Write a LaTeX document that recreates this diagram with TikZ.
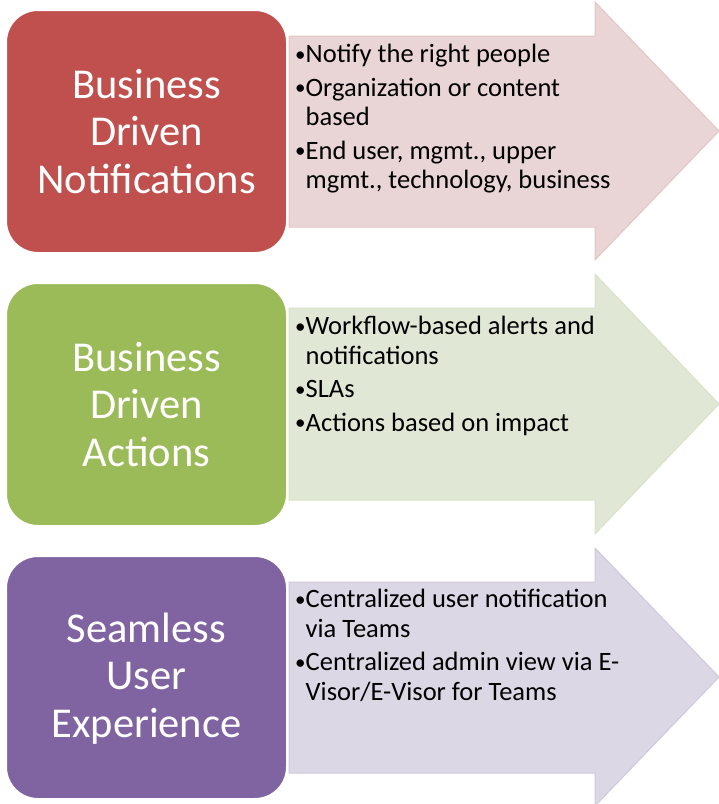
\documentclass[tikz,border=0pt]{standalone}
\usepackage{fontspec}
\setmainfont{Carlito}
\definecolor{redbox}{HTML}{C0504D}
\definecolor{greenbox}{HTML}{9BBB59}
\definecolor{purplebox}{HTML}{8064A2}
\definecolor{redarrow}{HTML}{E9D5D5}
\definecolor{greenarrow}{HTML}{E0E8D5}
\definecolor{purplearrow}{HTML}{DBD7E5}
\newcommand{\bmark}{\makebox[10.5pt][l]{\raisebox{1.2pt}{\fontsize{21}{21}\selectfont •}}}
\newcommand{\hind}{\hspace*{10.5pt}}
\begin{document}
\begin{tikzpicture}[x=1pt,y=-1pt,
  titlebox/.style={rounded corners=32pt, draw=white, line width=2pt, minimum width=281pt, minimum height=243pt, inner sep=0pt},
  titletext/.style={text=white, font=\fontsize{42.5}{47.5}\selectfont, align=center, inner sep=0pt},
  arrowline/.style={line width=1pt},
  bullettext/.style={anchor=base west, inner sep=0pt, text=black}
]
\useasboundingbox (0,0) rectangle (719,804);

% arrows
\draw[arrowline, fill=redarrow, draw=redarrow!88!redbox]
  (289,36) -- (595,36) -- (595,2) -- (719,131) -- (595,260) -- (595,227) -- (289,227) -- cycle;
\draw[arrowline, fill=greenarrow, draw=greenarrow!88!greenbox]
  (289,308) -- (595,308) -- (595,274) -- (719,404) -- (595,534) -- (595,500) -- (289,500) -- cycle;
\draw[arrowline, fill=purplearrow, draw=purplearrow!88!purplebox]
  (289,582) -- (595,582) -- (595,548) -- (719,677) -- (595,806) -- (595,773) -- (289,773) -- cycle;

% title boxes
\node[titlebox, fill=redbox] (b1) at (146.5,131.5) {};
\node[titlebox, fill=greenbox] (b2) at (146.5,404.5) {};
\node[titlebox, fill=purplebox] (b3) at (146.5,677.5) {};

\node[titletext] (t1) at (b1.center) {Business\\Driven\\Notifications};
\node[titletext] (t2) at (b2.center) {Business\\Driven\\Actions};
\node[titletext] (t3) at ([yshift=-1pt]b3.center) {Seamless\\User\\Experience};

% bullet texts
\node[bullettext] (l1) at (295,62.5) {\begin{minipage}[t]{400pt}\raggedright\fontsize{26.5}{29.5}\selectfont
\bmark Notify the right people\\[4pt]
\bmark Organization or content\\
\hind based\\[4pt]
\bmark End user, mgmt., upper\\
\hind mgmt., technology, business
\end{minipage}};

\node[bullettext] (l2) at (295,334.5) {\begin{minipage}[t]{400pt}\raggedright\fontsize{26.5}{29.5}\selectfont
\bmark Workflow-based alerts and\\
\hind notifications\\[4pt]
\bmark SLAs\\[4pt]
\bmark Actions based on impact
\end{minipage}};

\node[bullettext] (l3) at (295,607.5) {\begin{minipage}[t]{400pt}\raggedright\fontsize{26.5}{29.5}\selectfont
\bmark Centralized user notification\\
\hind via Teams\\[4pt]
\bmark Centralized admin view via E-\\
\hind Visor/E-Visor for Teams
\end{minipage}};
\end{tikzpicture}
\end{document}
